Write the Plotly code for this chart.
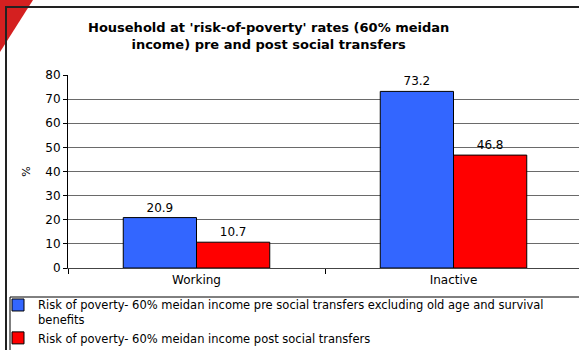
import plotly.graph_objects as go

categories = ["Working", "Inactive"]
pre_values = [20.9, 73.2]
post_values = [10.7, 46.8]
series_names = [
    "Risk of poverty- 60% meidan income pre social transfers excluding old age and survival<br>benefits",
    "Risk of poverty- 60% meidan income post social transfers",
]
y_ticks = [0, 10, 20, 30, 40, 50, 60, 70, 80]

W, H = 579, 350
L, T, B, R = 68, 75, 82, 0
PW, PH = W - L - R, H - T - B


def fx(px):
    return (px - L) / PW


def fy(py):
    return (H - B - py) / PH


font = "DejaVu Sans, Verdana, sans-serif"

fig = go.Figure()
fig.add_trace(go.Bar(
    x=categories, y=pre_values, name=series_names[0],
    marker=dict(color="#3366FF", line=dict(color="#000000", width=1)),
    text=[f"{v:.1f}" for v in pre_values], textposition="outside",
    textfont=dict(size=12, color="#000000", family=font), cliponaxis=False,
))
fig.add_trace(go.Bar(
    x=categories, y=post_values, name=series_names[1],
    marker=dict(color="#FF0000", line=dict(color="#000000", width=1)),
    text=[f"{v:.1f}" for v in post_values], textposition="outside",
    textfont=dict(size=12, color="#000000", family=font), cliponaxis=False,
))

fig.update_layout(
    width=W, height=H,
    margin=dict(l=L, r=R, t=T, b=B, pad=0, autoexpand=False),
    paper_bgcolor="white", plot_bgcolor="white",
    barmode="group", bargap=0.43, bargroupgap=0,
    font=dict(family=font, size=12, color="#000000"),
    showlegend=True,
    legend=dict(
        x=fx(-2), y=fy(291), xanchor="left", yanchor="top",
        bgcolor="rgba(0,0,0,0)", borderwidth=0, valign="top",
        font=dict(size=11.5, family=font, color="#000000"),
        itemwidth=30, tracegroupgap=0,
    ),
    xaxis=dict(
        type="category", range=[-0.5, -0.5 + PW / 257.0],
        showgrid=False, showline=True, linecolor="#444444", linewidth=1,
        ticks="outside", tickson="boundaries", ticklen=5, tickcolor="#000000",
        tickfont=dict(size=12, family=font), ticklabelstandoff=1,
    ),
    yaxis=dict(
        range=[0, 80], tickvals=y_ticks, showgrid=True, gridcolor="#6a6a6a", gridwidth=1,
        showline=True, linecolor="#000000", linewidth=1, zeroline=False,
        ticks="outside", ticklen=4, tickcolor="#000000",
        tickfont=dict(size=12, family=font),
        title=dict(text="%", font=dict(size=11, family=font), standoff=12),
    ),
    annotations=[dict(
        text="<b>Household at 'risk-of-poverty' rates (60% meidan<br>income) pre and post social transfers</b>",
        xref="paper", yref="paper", x=fx(268), y=fy(36), xanchor="center", yanchor="middle",
        showarrow=False, font=dict(size=13, family=font, color="#000000"),
    )],
    shapes=[
        dict(type="path", xref="paper", yref="paper",
             path=f"M {fx(0)},{fy(0)} L {fx(33)},{fy(0)} L {fx(0)},{fy(52)} Z",
             fillcolor="#D42020", line=dict(width=0), layer="below"),
        dict(type="rect", xref="paper", yref="paper",
             x0=fx(6), x1=fx(600), y0=fy(7), y1=fy(370),
             line=dict(color="#222222", width=2), fillcolor="rgba(0,0,0,0)"),
        dict(type="rect", xref="paper", yref="paper",
             x0=fx(10), x1=fx(600), y0=fy(297), y1=fy(370),
             line=dict(color="#000000", width=1), fillcolor="rgba(0,0,0,0)"),
    ],
)

fig.write_html("out.html")
